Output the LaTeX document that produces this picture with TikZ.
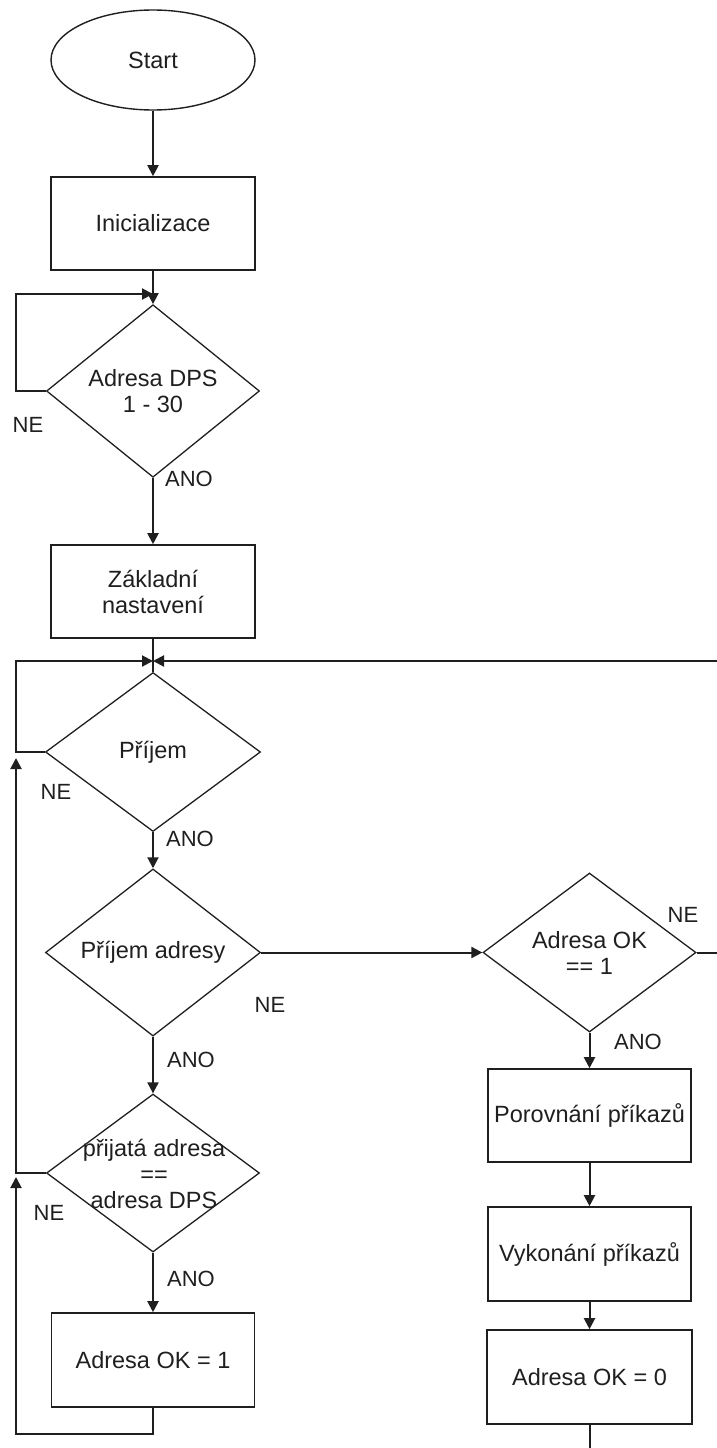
\documentclass[tikz,border=0pt]{standalone}
\usepackage{fontspec}
\setmainfont{Liberation Sans}
\usetikzlibrary{shapes.geometric,arrows.meta}
\begin{document}
\begin{tikzpicture}[x=1pt,y=-1pt,
  every node/.style={font=\fontsize{23.5}{26}\selectfont, text=black!88},
  box/.style={draw=black!88, line width=1.6pt, rectangle, inner sep=0pt, align=center},
  oval/.style={draw=black!88, line width=1.4pt, ellipse, inner sep=0pt, minimum width=204pt, minimum height=100pt},
  dec/.style={draw=black!88, line width=1.3pt, diamond, inner sep=0pt, align=center},
  lbl/.style={font=\fontsize{22}{24}\selectfont, inner sep=0pt},
  conn/.style={draw=black!88, line width=2pt},
  arr/.style={conn, -{Triangle[length=11pt,width=11pt]}}
]
\useasboundingbox (0,0) rectangle (717,1448);

% nodes
\node[oval] (start) at (153,60) {Start};
\node[box, minimum width=204pt, minimum height=93pt] (init) at (153,223.5) {Inicializace};
\node[dec, minimum width=213pt, minimum height=158pt] (d1) at (153,391) {Adresa DPS\\1 - 30};
\node[box, minimum width=204pt, minimum height=93pt] (zak) at (153,591.5) {Základní\\nastavení};
\node[dec, minimum width=215pt, minimum height=159pt] (d2) at (153,752) {Příjem};
\node[dec, minimum width=215pt, minimum height=159pt] (d3) at (153,952.5) {Příjem adresy};
\node[dec, minimum width=213pt, minimum height=158pt] (d4) at (153,1173) {};
\node (d4t) at (154,1174) [align=center, inner sep=0pt] {přijatá adresa\\==\\adresa DPS};
\node[box, minimum width=203pt, minimum height=94pt] (ao1) at (153,1360) {Adresa OK = 1};

\node[dec, minimum width=213pt, minimum height=159pt] (aok) at (589.5,952.5) {Adresa OK\\== 1};
\node[box, minimum width=203pt, minimum height=93pt] (pc) at (589.5,1115.5) {Porovnání příkazů};
\node[box, minimum width=203pt, minimum height=94pt] (vk) at (589.5,1254) {Vykonání příkazů};
\node[box, minimum width=205pt, minimum height=94pt] (ao0) at (589.5,1377) {Adresa OK = 0};

% helper coordinates
\coordinate (j1) at (153,294);
\coordinate (c0) at (16,294);
\coordinate (j2) at (153,661);
\coordinate (c1) at (16,661);
\coordinate (tipB) at (16,758);
\coordinate (tipA) at (16,1177);
\coordinate (r1) at (718,952.5);
\coordinate (bot) at (589.5,1450);

% connectors
\draw[arr] (start.south) -- (init.north);
\draw[arr] (init.south) -- (d1.north);
\draw[arr] (d1.west) -| (c0) -- (j1);
\draw[arr] (d1.south) -- (zak.north);
\draw[conn] (zak.south) -- (d2.north);
\draw[arr] (d2.west) -| (c1) -- (j2);
\draw[arr] (aok.east) -- (r1) |- (j2);
\draw[arr] (d2.south) -- (d3.north);
\draw[arr] (d3.east) -- (aok.west);
\draw[arr] (d3.south) -- (d4.north);
\draw[arr] (d4.west) -| (tipB);
\draw[arr] (d4.south) -- (ao1.north);
\draw[arr] (ao1.south) -- ++(0,26) -| (tipA);
\draw[arr] (aok.south) -- (pc.north);
\draw[arr] (pc.south) -- (vk.north);
\draw[arr] (vk.south) -- (ao0.north);
\draw[conn] (ao0.south) -- (bot);

% labels
\node[lbl] (l1) at (28,425) {NE};
\node[lbl] (l2) at (189,479) {ANO};
\node[lbl] (l3) at (56,792) {NE};
\node[lbl] (l4) at (190,839) {ANO};
\node[lbl] (l5) at (270,1005) {NE};
\node[lbl] (l6) at (191,1060) {ANO};
\node[lbl] (l7) at (49,1213) {NE};
\node[lbl] (l8) at (191,1279) {ANO};
\node[lbl] (l9) at (683,915) {NE};
\node[lbl] (l10) at (638,1042) {ANO};
\end{tikzpicture}
\end{document}
